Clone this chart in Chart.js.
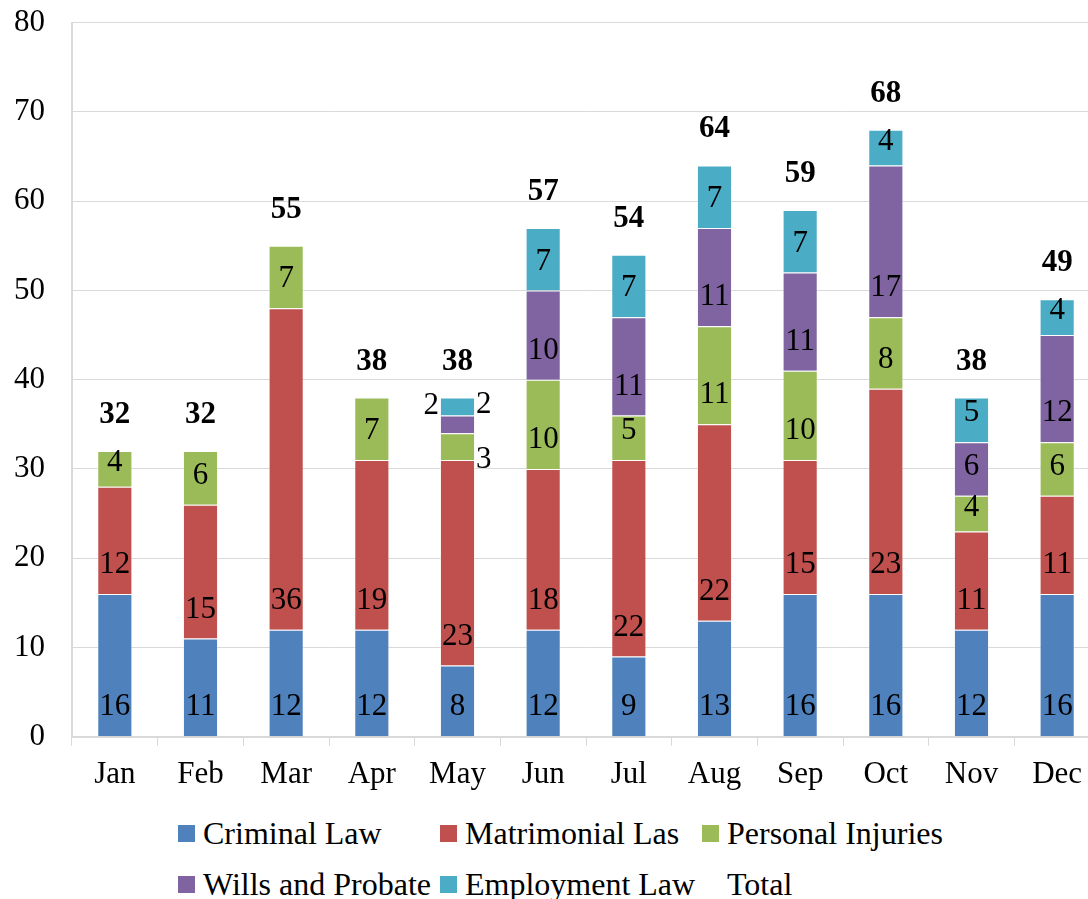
<!DOCTYPE html>
<html>
<head>
<meta charset="utf-8">
<script src="https://cdn.jsdelivr.net/npm/chart.js@4.4.1/dist/chart.umd.min.js"></script>
<style>
  body { margin: 0; background: #fff; overflow: hidden; width: 1088px; height: 899px; position: relative; }
  #wrap { position: absolute; left: -26px; top: -23px; width: 1126px; height: 826px; }
  #legend { position: absolute; left: 178px; top: 808px; display: grid;
    grid-template-columns: 262px 262px 300px; grid-auto-rows: 51px;
    font-family: "Liberation Serif", "Times New Roman", serif; font-size: 32px; color: #000; }
  #legend div { display: flex; align-items: center; white-space: nowrap; }
  #legend span.box { width: 17px; height: 17px; margin-right: 8px; flex: none; }
</style>
</head>
<body>
<div id="wrap"><canvas id="chartCanvas"></canvas></div>
<div id="legend"></div>
<script>
const months = ['Jan', 'Feb', 'Mar', 'Apr', 'May', 'Jun', 'Jul', 'Aug', 'Sep', 'Oct', 'Nov', 'Dec'];
const criminalLaw = [16, 11, 12, 12, 8, 12, 9, 13, 16, 16, 12, 16];
const matrimonial = [12, 15, 36, 19, 23, 18, 22, 22, 15, 23, 11, 11];
const personalInjuries = [4, 6, 7, 7, 3, 10, 5, 11, 10, 8, 4, 6];
const willsProbate = [0, 0, 0, 0, 2, 10, 11, 11, 11, 17, 6, 12];
const employmentLaw = [0, 0, 0, 0, 2, 7, 7, 7, 7, 4, 5, 4];
const totals = [32, 32, 55, 38, 38, 57, 54, 64, 59, 68, 38, 49];
const yTicks = [0, 10, 20, 30, 40, 50, 60, 70, 80];

const serif = '"Liberation Serif", "Times New Roman", serif';

const series = [
    { label: 'Criminal Law', data: criminalLaw, color: '#4F81BD' },
    { label: 'Matrimonial Las', data: matrimonial, color: '#C0504D' },
    { label: 'Personal Injuries', data: personalInjuries, color: '#9BBB59' },
    { label: 'Wills and Probate', data: willsProbate, color: '#8064A2' },
    { label: 'Employment Law', data: employmentLaw, color: '#4BACC6' }
];

// labels inside each segment, small ones pushed outside the bar
const segmentLabels = {
    id: 'segmentLabels',
    afterDatasetsDraw(chart) {
        const ctx = chart.ctx;
        ctx.save();
        ctx.font = '31px ' + serif;
        ctx.fillStyle = '#000';
        ctx.textAlign = 'center';
        ctx.textBaseline = 'middle';
        const smallCount = months.map(() => 0);
        chart.data.datasets.forEach((ds, di) => {
            const meta = chart.getDatasetMeta(di);
            meta.data.forEach((bar, i) => {
                const v = ds.data[i];
                if (!v) return;
                const h = bar.base - bar.y;
                if (v <= 3) {
                    const n = smallCount[i]++;
                    if (n % 2 === 0) {
                        ctx.textAlign = 'left';
                        ctx.fillText(v, bar.x + bar.width / 2 + 1, (bar.y + bar.base) / 2 + (n === 0 ? 13 : -2));
                    } else {
                        ctx.textAlign = 'right';
                        ctx.fillText(v, bar.x - bar.width / 2 - 1, bar.y - 10);
                    }
                    ctx.textAlign = 'center';
                } else {
                    ctx.fillText(v, bar.x, bar.base - Math.min(29, h - 12));
                }
            });
        });
        // totals above each stack
        const first = chart.getDatasetMeta(0);
        const y = chart.scales.y;
        ctx.font = 'bold 31px ' + serif;
        totals.forEach((t, i) => {
            ctx.fillText(t, first.data[i].x, y.getPixelForValue(t) - 36);
        });
        ctx.restore();
    }
};

const ctx = document.getElementById('chartCanvas').getContext('2d');
new Chart(ctx, {
    type: 'bar',
    data: {
        labels: months,
        datasets: series.map(s => ({
            label: s.label,
            data: s.data,
            backgroundColor: s.color,
            borderColor: 'rgba(255,255,255,0.35)',
            borderWidth: 1,
            barPercentage: 0.41,
            categoryPercentage: 1
        }))
    },
    options: {
        responsive: true,
        maintainAspectRatio: false,
        animation: false,
        layout: { padding: { left: 13, top: 5, right: 0, bottom: 0 } },
        plugins: {
            legend: { display: false },
            tooltip: { enabled: false }
        },
        scales: {
            x: {
                stacked: true,
                grid: { display: true, drawOnChartArea: false, color: '#d9d9d9', tickLength: 9, offset: true },
                border: { color: '#d9d9d9', width: 2 },
                ticks: { color: '#000', font: { family: serif, size: 31 }, padding: 10 }
            },
            y: {
                stacked: true,
                min: 0,
                max: 80,
                afterBuildTicks: axis => { axis.ticks = yTicks.map(v => ({ value: v })); },
                grid: { color: '#d9d9d9', drawTicks: false },
                border: { color: '#d9d9d9', width: 2 },
                ticks: { color: '#000', font: { family: serif, size: 31 }, padding: 27 }
            }
        }
    },
    plugins: [segmentLabels]
});

const legend = document.getElementById('legend');
series.concat([{ label: 'Total', color: null }]).forEach(s => {
    const item = document.createElement('div');
    if (s.color) {
        const box = document.createElement('span');
        box.className = 'box';
        box.style.background = s.color;
        item.appendChild(box);
    } else {
        item.style.paddingLeft = '25px';
    }
    item.appendChild(document.createTextNode(s.label));
    legend.appendChild(item);
});
</script>
</body>
</html>
